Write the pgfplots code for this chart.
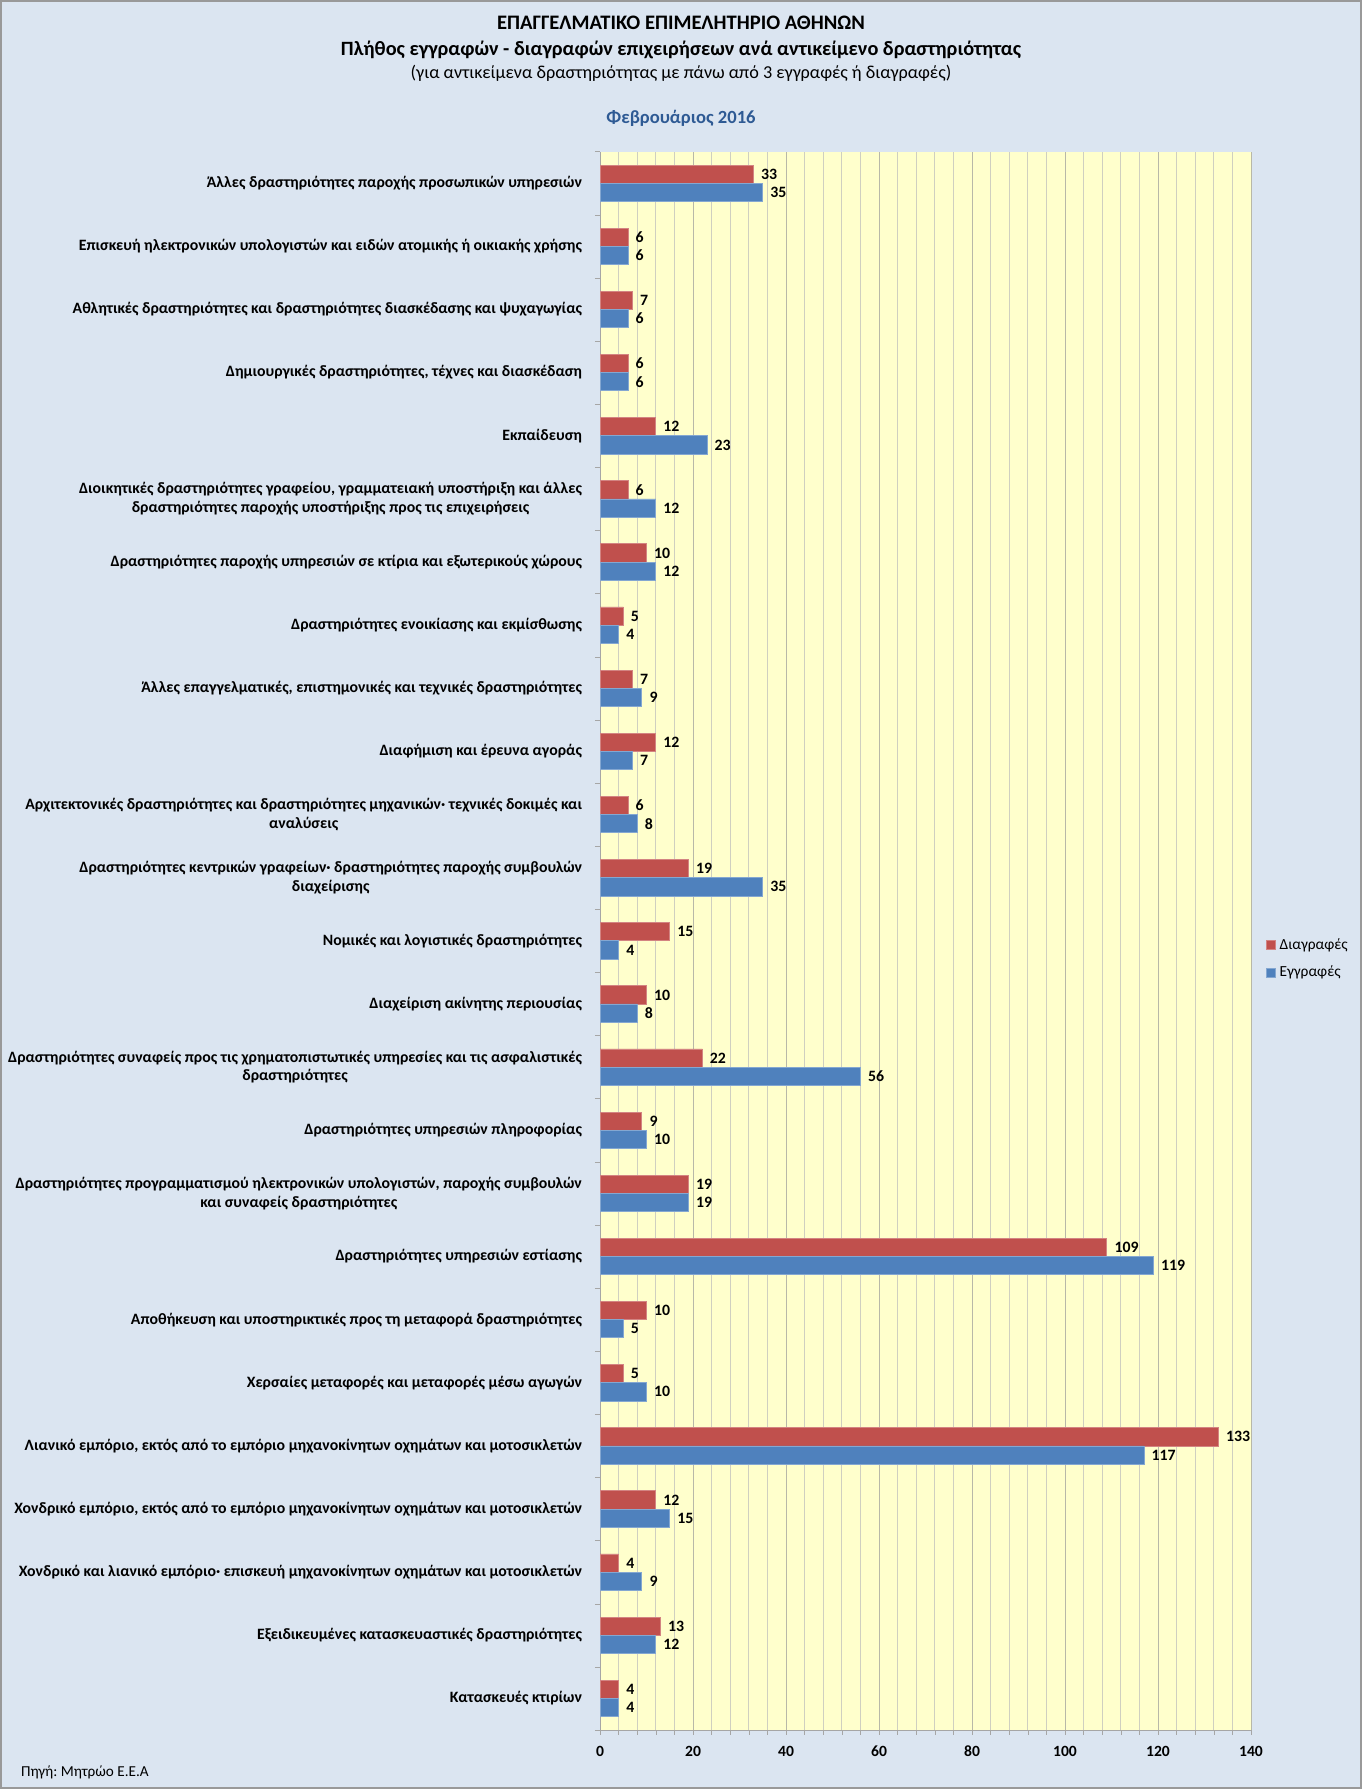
\documentclass[border=0pt]{standalone}
\usepackage{fontspec}
\setmainfont{Carlito}
\usepackage{pgfplots}
\pgfplotsset{compat=1.18}
\usepackage{pgfplotstable}
\frenchspacing
\definecolor{chartbg}{HTML}{DBE5F1}
\definecolor{plotbg}{HTML}{FFFFCC}
\definecolor{redbar}{HTML}{C0504D}
\definecolor{bluebar}{HTML}{4F81BD}
\definecolor{titleblue}{HTML}{2E5A94}
\definecolor{gridc}{HTML}{CFCFC0}
\definecolor{gridmaj}{HTML}{B8B8A8}

\pgfplotstableread{
y del reg
0 4 4
1 13 12
2 4 9
3 12 15
4 133 117
5 5 10
6 10 5
7 109 119
8 19 19
9 9 10
10 22 56
11 10 8
12 15 4
13 19 35
14 6 8
15 12 7
16 7 9
17 5 4
18 10 12
19 6 12
20 12 23
21 6 6
22 7 6
23 6 6
24 33 35
}\datatable

\begin{document}
\begin{tikzpicture}
\useasboundingbox (0,0) rectangle (681pt,894.5pt);
\fill[chartbg] (0,0) rectangle (681pt,894.5pt);
\draw[gray!80, line width=1pt] (0.5pt,0.5pt) rectangle (680.5pt,894pt);
\node[font=\bfseries\fontsize{10.3}{12}\selectfont] at (340.5pt,883pt) {ΕΠΑΓΓΕΛΜΑΤΙΚΟ ΕΠΙΜΕΛΗΤΗΡΙΟ ΑΘΗΝΩΝ};
\node[font=\bfseries\fontsize{10.15}{12}\selectfont] at (340.5pt,869.5pt) {Πλήθος εγγραφών - διαγραφών επιχειρήσεων ανά αντικείμενο δραστηριότητας};
\node[font=\fontsize{9.1}{11}\selectfont] at (340.5pt,858pt) {(για αντικείμενα δραστηριότητας με πάνω από 3 εγγραφές ή διαγραφές)};
\node[font=\bfseries\fontsize{9.3}{11}\selectfont, text=titleblue] at (340.5pt,835.5pt) {Φεβρουάριος 2016};
\node[font=\fontsize{7.6}{9}\selectfont, anchor=west] at (7pt,8.2pt) {Πηγή: Μητρώο Ε.Ε.Α};
\begin{axis}[
  at={(300pt,29.5pt)}, anchor=south west,
  width=325.5pt, height=789.15pt, scale only axis,
  xbar,
  xmin=0, xmax=140, ymin=-0.5, ymax=24.5,
  axis lines=left,
  axis line style={-, draw=gray!70},
  axis background/.style={fill=plotbg},
  xtick={0,20,...,140},
  minor xtick={0,4,...,140},
  xmajorgrids, xminorgrids,
  major grid style={draw=gridmaj, line width=0.4pt},
  minor grid style={draw=gridc, line width=0.4pt},
  tick align=outside,
  major tick length=2.5pt, minor tick length=2.5pt,
  xtick style={draw=gray!70},
  minor x tick style={draw=gray!70},
  ytick={0,1,...,24},
  ytick style={draw=none},
  minor ytick={-0.5,0.5,...,24.5},
  minor y tick style={draw=gray!70},
  /pgf/number format/assume math mode=true,
  xticklabel style={font=\bfseries\fontsize{7.8}{9}\selectfont, yshift=-2pt},
  yticklabel style={font=\bfseries\fontsize{7.9}{9.4}\selectfont, align=center, anchor=east, xshift=-3pt},
  yticklabels={
    {Κατασκευές κτιρίων},
    {Εξειδικευμένες κατασκευαστικές δραστηριότητες},
    {Χονδρικό και λιανικό εμπόριο· επισκευή μηχανοκίνητων οχημάτων και μοτοσικλετών},
    {Χονδρικό εμπόριο, εκτός από το εμπόριο μηχανοκίνητων οχημάτων και μοτοσικλετών},
    {Λιανικό εμπόριο, εκτός από το εμπόριο μηχανοκίνητων οχημάτων και μοτοσικλετών},
    {Χερσαίες μεταφορές και μεταφορές μέσω αγωγών},
    {Αποθήκευση και υποστηρικτικές προς τη μεταφορά δραστηριότητες},
    {Δραστηριότητες υπηρεσιών εστίασης},
    {Δραστηριότητες προγραμματισμού ηλεκτρονικών υπολογιστών, παροχής συμβουλών\\και συναφείς δραστηριότητες},
    {Δραστηριότητες υπηρεσιών πληροφορίας},
    {Δραστηριότητες συναφείς προς τις χρηματοπιστωτικές υπηρεσίες και τις ασφαλιστικές\\δραστηριότητες},
    {Διαχείριση ακίνητης περιουσίας},
    {Νομικές και λογιστικές δραστηριότητες},
    {Δραστηριότητες κεντρικών γραφείων· δραστηριότητες παροχής συμβουλών\\διαχείρισης},
    {Αρχιτεκτονικές δραστηριότητες και δραστηριότητες μηχανικών· τεχνικές δοκιμές και\\αναλύσεις},
    {Διαφήμιση και έρευνα αγοράς},
    {Άλλες επαγγελματικές, επιστημονικές και τεχνικές δραστηριότητες},
    {Δραστηριότητες ενοικίασης και εκμίσθωσης},
    {Δραστηριότητες παροχής υπηρεσιών σε κτίρια και εξωτερικούς χώρους},
    {Διοικητικές δραστηριότητες γραφείου, γραμματειακή υποστήριξη και άλλες\\δραστηριότητες παροχής υποστήριξης προς τις επιχειρήσεις},
    {Εκπαίδευση},
    {Δημιουργικές δραστηριότητες, τέχνες και διασκέδαση},
    {Αθλητικές δραστηριότητες και δραστηριότητες διασκέδασης και ψυχαγωγίας},
    {Επισκευή ηλεκτρονικών υπολογιστών και ειδών ατομικής ή οικιακής χρήσης},
    {Άλλες δραστηριότητες παροχής προσωπικών υπηρεσιών}
  },
  bar width=9.1pt,
  nodes near coords,
  nodes near coords align=horizontal,
  every node near coord/.append style={font=\bfseries\fontsize{7.9}{9}\selectfont, anchor=west, xshift=0.3pt, text=black},
  legend style={at={(1.0138,0.4885)}, anchor=west, draw=none, fill=none,
    font=\fontsize{7.7}{9}\selectfont, row sep=3pt, cells={anchor=west}},
  legend image code/.code={\fill[#1] (0pt,-2.1pt) rectangle (4.2pt,2.1pt);},
]
\addplot[fill=redbar, draw=redbar!70!white, bar shift=4.55pt] table[x=del, y=y]{\datatable};
\addlegendentry{Διαγραφές}
\addplot[fill=bluebar, draw=bluebar!70!white, bar shift=-4.55pt] table[x=reg, y=y]{\datatable};
\addlegendentry{Εγγραφές}
\end{axis}
\end{tikzpicture}
\end{document}
